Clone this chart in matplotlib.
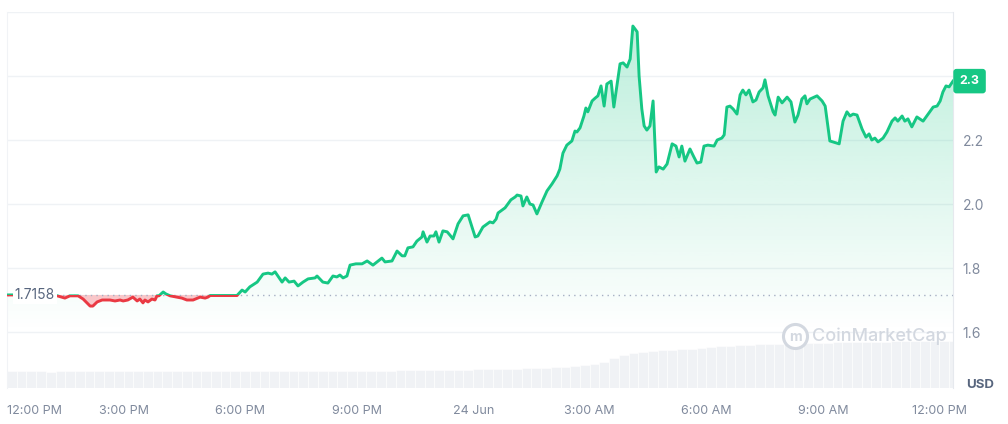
import matplotlib
matplotlib.use("Agg")
import matplotlib.pyplot as plt
import matplotlib.transforms as mtransforms
from matplotlib.patches import Rectangle, Polygon
import numpy as np

plt.rcParams["font.family"] = ["Inter", "DejaVu Sans"]

# hours since 12:00 PM (23 Jun) and price in USD
hours = [0.00, 0.59, 1.24, 1.41, 1.49, 1.62, 1.83, 1.96, 2.14, 2.21, 2.32, 2.45, 2.65, 2.78, 2.91,
         2.99, 3.11, 3.24, 3.35, 3.42, 3.50, 3.55, 3.63, 3.73, 3.81, 3.86, 3.91, 4.02, 4.09, 4.20,
         4.38, 4.50, 4.63, 4.79, 4.97, 5.10, 5.17, 5.23, 5.41, 5.92, 6.05, 6.13, 6.25, 6.44, 6.59,
         6.72, 6.82, 6.90, 7.08, 7.16, 7.26, 7.39, 7.49, 7.62, 7.75, 7.93, 7.98, 8.13, 8.26, 8.39,
         8.49, 8.57, 8.65, 8.75, 8.83, 8.98, 9.14, 9.27, 9.42, 9.65, 9.73, 9.91, 10.04, 10.17, 10.24,
         10.32, 10.45, 10.55, 10.68, 10.71, 10.81, 10.89, 10.99, 11.04, 11.12, 11.22, 11.33, 11.40, 11.48, 11.61,
         11.74, 11.87, 12.05, 12.12, 12.25, 12.43, 12.51, 12.59, 12.64, 12.82, 12.97, 13.08, 13.13, 13.23, 13.28,
         13.38, 13.46, 13.54, 13.64, 13.77, 13.90, 14.03, 14.16, 14.23, 14.31, 14.41, 14.54, 14.62, 14.67, 14.75,
         14.85, 14.90, 14.95, 15.06, 15.14, 15.21, 15.29, 15.37, 15.44, 15.55, 15.62, 15.78, 15.86, 15.96, 16.04,
         16.11, 16.22, 16.27, 16.34, 16.40, 16.47, 16.55, 16.63, 16.71, 16.78, 16.89, 16.99, 17.12, 17.22, 17.30,
         17.37, 17.45, 17.58, 17.68, 17.76, 17.86, 17.94, 18.04, 18.20, 18.28, 18.40, 18.46, 18.53, 18.61, 18.69,
         18.79, 18.87, 18.94, 19.02, 19.10, 19.20, 19.28, 19.36, 19.46, 19.51, 19.59, 19.72, 19.77, 19.85, 19.95,
         20.08, 20.18, 20.28, 20.36, 20.46, 20.54, 20.59, 20.67, 20.85, 20.98, 21.06, 21.18, 21.26, 21.42, 21.52,
         21.62, 21.70, 21.78, 21.88, 22.01, 22.11, 22.19, 22.26, 22.34, 22.42, 22.55, 22.65, 22.78, 22.86, 22.93,
         23.04, 23.11, 23.19, 23.29, 23.42, 23.58, 23.71, 23.84, 23.94, 24.02, 24.09, 24.17, 24.25, 24.35]
price = [1.7158, 1.716, 1.715, 1.709, 1.706, 1.713, 1.713, 1.703, 1.681, 1.681, 1.694, 1.700, 1.700, 1.697, 1.700,
         1.697, 1.700, 1.709, 1.697, 1.703, 1.691, 1.700, 1.694, 1.703, 1.700, 1.713, 1.713, 1.725, 1.719, 1.713,
         1.709, 1.706, 1.700, 1.700, 1.709, 1.706, 1.709, 1.714, 1.714, 1.714, 1.731, 1.725, 1.741, 1.756, 1.781,
         1.784, 1.781, 1.788, 1.756, 1.769, 1.756, 1.759, 1.744, 1.756, 1.766, 1.769, 1.775, 1.756, 1.753, 1.775,
         1.772, 1.778, 1.769, 1.775, 1.809, 1.813, 1.813, 1.822, 1.809, 1.831, 1.819, 1.822, 1.853, 1.838, 1.838,
         1.863, 1.866, 1.884, 1.897, 1.913, 1.881, 1.900, 1.900, 1.913, 1.881, 1.916, 1.913, 1.903, 1.891, 1.938,
         1.963, 1.966, 1.897, 1.900, 1.928, 1.944, 1.941, 1.953, 1.972, 1.988, 2.013, 2.022, 2.028, 2.025, 1.994,
         2.022, 2.000, 1.997, 1.969, 2.006, 2.041, 2.063, 2.088, 2.109, 2.159, 2.184, 2.197, 2.228, 2.225, 2.238,
         2.275, 2.300, 2.288, 2.322, 2.331, 2.338, 2.369, 2.306, 2.375, 2.384, 2.303, 2.438, 2.441, 2.428, 2.453,
         2.556, 2.538, 2.400, 2.297, 2.244, 2.231, 2.244, 2.322, 2.100, 2.116, 2.109, 2.125, 2.188, 2.181, 2.147,
         2.181, 2.134, 2.172, 2.147, 2.128, 2.131, 2.181, 2.184, 2.181, 2.200, 2.206, 2.216, 2.303, 2.306, 2.297,
         2.281, 2.341, 2.356, 2.341, 2.356, 2.319, 2.325, 2.350, 2.363, 2.388, 2.338, 2.288, 2.278, 2.334, 2.316,
         2.334, 2.319, 2.256, 2.278, 2.328, 2.338, 2.313, 2.328, 2.338, 2.322, 2.306, 2.197, 2.194, 2.188, 2.259,
         2.288, 2.275, 2.281, 2.278, 2.234, 2.209, 2.219, 2.200, 2.206, 2.194, 2.206, 2.225, 2.259, 2.269, 2.259,
         2.275, 2.259, 2.266, 2.241, 2.272, 2.259, 2.281, 2.303, 2.306, 2.322, 2.350, 2.369, 2.366, 2.384]

# 24h volume, quarter-hour steps (M USD, arbitrary scale)
volume = [17, 17, 17, 17, 16, 17, 17, 17, 17, 17, 17, 17, 17, 17, 17, 17, 17, 17, 17, 17,
          17, 17, 17, 17, 17, 17, 17, 17, 17, 17, 17, 17, 17, 17, 17, 17, 17,
          17, 17, 17, 18, 18, 18, 18, 18, 18, 18, 18, 19, 19, 19, 19, 19,
          20, 20, 20, 21, 21,
          22, 23, 24, 26,
          30, 33, 35, 36,
          37, 38, 38, 39, 39, 40,
          41, 42, 42, 43, 43, 44, 44, 44,
          45, 45, 45, 45, 45, 46, 46, 46, 46, 46, 46, 47, 47, 47, 47, 47, 47, 47]

open_price = 1.7158
tick_hours = [0, 3, 6, 9, 12, 15, 18, 21, 24]
tick_labels = ["12:00 PM", "3:00 PM", "6:00 PM", "9:00 PM", "24 Jun", "3:00 AM", "6:00 AM", "9:00 AM", "12:00 PM"]
price_ticks = [1.6, 1.8, 2.0, 2.2, 2.4]

green = "#16c784"
red = "#ea3943"
grey_txt = "#808a9d"
dark_txt = "#58667e"
mark_col = "#d3d8e0"

t = np.array(hours)
p = np.array(price)
x0, x1 = 0, 24.35
y0, y1 = 1.425, 2.6

fig = plt.figure(figsize=(10.08, 4.24), dpi=100)
ax = fig.add_axes([7 / 1008, 36 / 424, 946 / 1008, 376 / 424])
axv = ax.twinx()
ax.set_zorder(2)
axv.set_zorder(1)
ax.patch.set_visible(False)

# volume bars
vt = np.arange(len(volume)) * 0.25 + 0.125
axv.bar(vt, volume, width=0.25, color="#f0f2f5", edgecolor="white", linewidth=0.4)
axv.set_ylim(0, 376)
axv.set_xlim(x0, x1)
axv.axis("off")

ax.set_xlim(x0, x1)
ax.set_ylim(y0, y1)

# grid
for yv in price_ticks + [2.6]:
    ax.axhline(yv, color="#eff2f5", lw=1, zorder=0)

# gradient fill under the line
poly = Polygon(np.column_stack([np.r_[t, t[-1], t[0]], np.r_[p, y0, y0]]), closed=True,
               facecolor="none", edgecolor="none", transform=ax.transData)
ax.add_patch(poly)
gy = np.linspace(1, 0, 256)
alpha = np.clip((gy * (y1 - y0) + y0 - 1.60) / (2.6 - 1.60), 0, 1) * 0.30
rgba = np.zeros((256, 1, 4))
rgba[..., :3] = matplotlib.colors.to_rgb(green)
rgba[:, 0, 3] = alpha
img = ax.imshow(rgba, extent=[x0, x1, y0, y1], aspect="auto", zorder=1, interpolation="bilinear")
img.set_clip_path(poly)

# red fill between line and open price
ax.fill_between(t, p, open_price, where=p < open_price, interpolate=True,
                color=red, alpha=0.28, lw=0, zorder=2)

# baseline
ax.axhline(open_price, color="#a6b0c3", lw=1, ls=(0, (1, 3)), zorder=2)

# price line, green above open, red below
up = ax.plot(t, p, color=green, lw=2.1, zorder=4, solid_joinstyle="round")[0]
dn = ax.plot(t, p, color=red, lw=2.1, zorder=4, solid_joinstyle="round")[0]
up.set_clip_path(Rectangle((x0, open_price), x1 - x0, y1 - open_price, transform=ax.transData))
dn.set_clip_path(Rectangle((x0, y0), x1 - x0, open_price - y0, transform=ax.transData))

# axes styling
for side in ["top", "bottom"]:
    ax.spines[side].set_visible(False)
ax.spines["left"].set_color("#f1f3f6")
ax.spines["right"].set_color("#e6e9ee")
ax.yaxis.tick_right()
ax.set_yticks(price_ticks)
ax.set_yticklabels(["1.6", "1.8", "2.0", "2.2", ""])
ax.tick_params(axis="y", length=0, pad=7, labelsize=10, labelcolor=grey_txt)
ax.set_xticks(tick_hours)
ax.set_xticklabels(tick_labels)
ax.tick_params(axis="x", length=0, pad=12, labelsize=9, labelcolor=grey_txt)
ax.get_xticklabels()[0].set_horizontalalignment("left")

# open price label at left
ax.text(0.2, open_price, "1.7158", ha="left", va="center", fontsize=10, color=dark_txt, zorder=6,
        bbox=dict(boxstyle="square,pad=0.15", fc="white", ec="none"))

# last price badge
trans = mtransforms.blended_transform_factory(ax.transAxes, ax.transData)
ax.text(1.0175, p[-1], "2.3", transform=trans, ha="center", va="center", fontsize=9,
        fontweight="bold", color="white", zorder=6, clip_on=False,
        bbox=dict(boxstyle="round,pad=0.5,rounding_size=0.25", fc=green, ec="none"))

fig.text(980 / 1008, 1 - 385 / 424, "USD", ha="center", va="center", fontsize=9.5,
         fontweight="bold", color=dark_txt)

# watermark
ax.text(0.922, 0.137, "CoinMarketCap", transform=ax.transAxes, ha="center", va="center",
        fontsize=13, color=mark_col, fontweight="medium", zorder=7)
ax.scatter([0.833], [0.137], s=300, marker="o", facecolors="white", edgecolors=mark_col,
           linewidths=2.2, transform=ax.transAxes, zorder=7, clip_on=False)
ax.text(0.8335, 0.135, "m", transform=ax.transAxes, ha="center", va="center",
        fontsize=10, color=mark_col, fontweight="bold", zorder=8)

fig.savefig("out.png", dpi=100)
